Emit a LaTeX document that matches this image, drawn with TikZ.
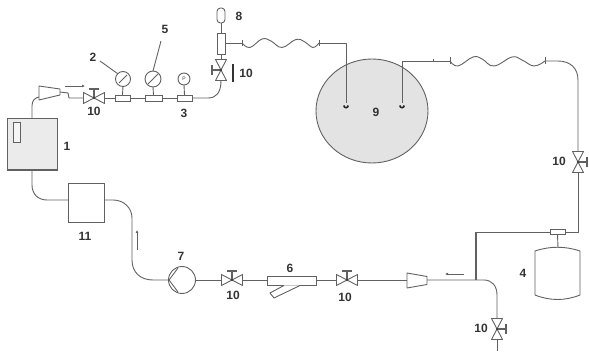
\documentclass[tikz,border=0pt]{standalone}
\usepackage{fontspec}
\setmainfont{Liberation Sans}
\usetikzlibrary{arrows.meta}
\definecolor{ln}{gray}{0.38}
\definecolor{tx}{gray}{0.2}
\tikzset{
  x=1pt,y=-1pt,
  pipe/.style={draw=ln,line width=0.9pt,line join=round},
  equip/.style={draw=ln,line width=0.9pt,inner sep=0pt,outer sep=0pt},
  lab/.style={font=\fontsize{12}{13}\selectfont\bfseries,text=tx,inner sep=0pt},
  flow/.style={draw=ln,line width=0.9pt,-{Latex[length=3pt,width=3pt]}},
  valve/.pic={
    \draw[pipe,fill=white] (-10.5,-5.5)--(10.5,5.5)--(10.5,-5.5)--(-10.5,5.5)--cycle;
    \draw[pipe,line width=1.1pt] (0,0)--(0,-9);
    \draw[pipe,line width=1.1pt] (-5,-9)--(5,-9);
    \fill[tx] (0,0) circle (1.2);
  }
}
\begin{document}
\begin{tikzpicture}
\useasboundingbox (0,0) rectangle (589,352);
% equipment
\node[equip,fill=black!8,minimum width=50pt,minimum height=52pt] (b1) at (32,144) {};
\node[equip,fill=black!4,minimum width=7pt,minimum height=20pt] (b1w) at (16.5,132) {};
\node[equip,fill=white,minimum width=36pt,minimum height=39pt] (b11) at (86,202.5) {};
\draw[line width=1.6pt,draw=ln] (b1.south west)--(b1.south east);
% fittings
\node[equip,minimum width=15pt,minimum height=6pt,fill=white] (f2) at (122.5,98) {};
\node[equip,minimum width=17pt,minimum height=6pt,fill=white] (f5) at (153.5,98) {};
\node[equip,minimum width=15pt,minimum height=6pt,fill=white] (f3) at (184.5,98) {};
\node[equip,circle,minimum width=15pt,fill=white] (g2) at (123,79) {};
\node[equip,circle,minimum width=16pt,fill=white] (g5) at (153,79) {};
\node[equip,circle,minimum width=12pt,fill=white] (g3) at (184,79) {};
\draw[pipe] (g2.south)--(f2.north) (g5.south)--(f5.north) (g3.south)--(f3.north);
\draw[pipe] (119,83)--(127,75) (148,84)--(158,74);
\node[inner sep=0pt,font=\fontsize{5}{5}\selectfont,text=tx] at (184,79) {P};
% reducers
\coordinate (rAo) at (60,92);
\coordinate (rB) at (427,280); \coordinate (rBo) at (407,280);
\draw[pipe,fill=white] (39,86)--(60,89)--(60,95)--(39,100)--cycle;
\draw[pipe,fill=white] (407,273)--(427,276.5)--(427,284.5)--(407,288)--cycle;
% valves
\coordinate (v1) at (94,98);
\coordinate (v2) at (221,70);
\coordinate (v3) at (578,162);
\coordinate (v4) at (232,280);
\coordinate (v5) at (347,280);
\coordinate (v6) at (497,329);
\pic at (v1) {valve};
\pic[rotate=90] at (v2) {valve};
\pic[rotate=-90] at (v3) {valve};
\pic at (v4) {valve};
\pic at (v5) {valve};
\pic[rotate=-90] at (v6) {valve};
% pipes top-left
\draw[pipe] (b1.north) -- (32,106) .. controls (32,100) and (35,98) .. (39,97);
\draw[pipe] (rAo) -- (68,93) -- (69,98) -- (83.5,98);
\draw[pipe] (104.5,98)--(f2.west) (f2.east)--(f5.west) (f5.east)--(f3.west);
\draw[pipe] (f3.east) -- (208,98) .. controls (216,98) and (221,93) .. (221,80.5);
% 8
\node[equip,minimum width=8pt,minimum height=21pt,fill=white] (r8) at (221,43.5) {};
\node[equip,minimum width=8pt,minimum height=15pt,rounded corners=3.5pt,fill=white] (c8) at (221,15.5) {};
\draw[pipe] (c8.south)--(r8.north);
\draw[pipe] (r8.south)--(221,59.5);
% vessel
\draw[pipe,fill=black!11] (372,111) ellipse (56 and 52);
\coordinate (w1a) at (242,43); \coordinate (w1b) at (319,43);
\coordinate (w2a) at (450,61); \coordinate (w2b) at (545,61);
\draw[pipe] (225,43)--(w1a);
\draw[pipe] (242,40)--(242,46) (319,40)--(319,46);
\draw[pipe] plot[smooth,tension=0.7] coordinates {(w1a) (250,47.5) (262,39) (271,41) (282,47.5) (296,39.5) (305,42) (313,47.5) (w1b)};
\draw[pipe] (w1b) -- (346,43) -- (346,103);
\draw[line width=1.6pt,draw=black!85] (343.8,105.5) arc (180:0:2.2);
\draw[pipe] (402,103) -- (402,61) -- (w2a);
\draw[line width=1.6pt,draw=black!85] (399.8,105.5) arc (180:0:2.2);
\draw[pipe] (433,59.5)--(433,62);
\draw[pipe] (450,57.5)--(450,64.5) (545,57.5)--(545,64.5);
\draw[pipe] plot[smooth,tension=0.7] coordinates {(w2a) (458,66) (473,57) (482,59) (494,66) (512,57) (522,60) (534,66) (w2b)};
\draw[pipe] (w2b) -- (558,61) .. controls (570,61) and (578,68) .. (578,80) -- (578,151.5);
% tank
\node[equip,minimum width=15pt,minimum height=5pt,fill=white] (f4) at (557.5,232) {};
\draw[pipe,fill=white] (535,251) .. controls (550,246) and (565,246) .. (580,251) -- (580,295) .. controls (565,301) and (550,301) .. (535,295) -- cycle;
\coordinate (tk) at (558,248);
\draw[pipe] (f4.south)--(tk);
\draw[pipe] (578,172.5)--(578,232)--(f4.east);
\coordinate (J) at (476,280);
\draw[pipe] (f4.west)--(476,232);
\draw[pipe,line width=1.5pt] (476,232)--(J);
\draw[pipe] (rB) -- (J) -- (484,280) .. controls (492,280) and (497,286) .. (497,295) -- (497,318.5);
\draw[pipe] (497,339.5)--(497,351);
\draw[pipe] (rBo)--(357.5,280);
\draw[pipe] (336.5,280)--(316,280);
% filter 6
\node[equip,minimum width=49pt,minimum height=9pt,fill=white] (r6) at (291.5,281) {};
\draw[pipe,fill=white] (284,285.5) -- (270,293) -- (274,298) -- (300,285.5);
\draw[pipe] (r6.west |- 0,280)--(242.5,280);
% pump
\node[equip,circle,minimum width=27pt,fill=white] (p7) at (182,280) {};
\draw[pipe] (169,280)--(178,268) (169,280)--(178,292);
\draw[pipe] (p7.east)--(221.5,280);
\draw[pipe] (p7.west)--(153,280) .. controls (140,280) and (132,272) .. (132,260) -- (132,218) .. controls (132,208) and (124,200) .. (113,200) -- (b11.east |- 0,200);
\draw[pipe] (b1.south) -- (32,185) .. controls (32,194) and (38,200) .. (47,200) -- (b11.west |- 0,200);
% flow arrows
\coordinate (a1s) at (65,86); \coordinate (a1e) at (85,86);
\coordinate (a2s) at (464,274); \coordinate (a2e) at (445,274);
\coordinate (a3s) at (137,250); \coordinate (a3e) at (137,230);
\draw[flow] (a1s)--(a1e);
\draw[flow] (a2s)--(a2e);
\draw[flow] (a3s)--(a3e);
% leaders
\coordinate (l2) at (100,61); \coordinate (l5) at (161,41); \coordinate (bA) at (233,64); \coordinate (bB) at (233,82);
\draw[pipe] (l2)--(g2.north west);
\draw[pipe] (l5)--(g5.north);
\draw[line width=1.4pt,draw=tx] (bA)--(bB);
% labels
\node[lab] (t1) at (67,146) {1};
\node[lab] (t2) at (93,57) {2};
\node[lab] (t5) at (165,29) {5};
\node[lab] (t3) at (184,113) {3};
\node[lab] (t10a) at (94,111) {10};
\node[lab] (t8) at (239,16) {8};
\node[lab] (t10b) at (246,73.5) {10};
\node[lab] (t9) at (376,112) {9};
\node[lab] (t10c) at (559,161.5) {10};
\node[lab] (t11) at (85,236) {11};
\node[lab] (t7) at (181,256) {7};
\node[lab] (t6) at (290,268) {6};
\node[lab] (t10d) at (233,295) {10};
\node[lab] (t10e) at (345,297) {10};
\node[lab] (t4) at (523,273) {4};
\node[lab] (t10f) at (481,328) {10};
\end{tikzpicture}
\end{document}
